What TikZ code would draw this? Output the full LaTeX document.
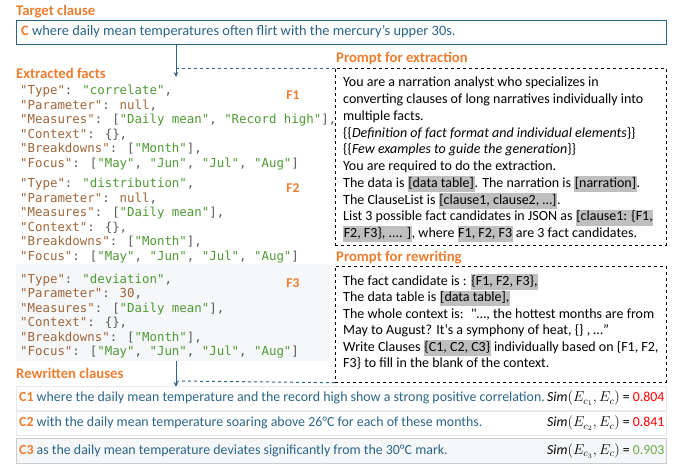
\documentclass[tikz,border=0pt]{standalone}
\usepackage{amsmath}
\usepackage{fontspec}
\setmainfont{Carlito}
\newfontfamily\codefont{DejaVu Sans Mono}
\usetikzlibrary{arrows.meta}
\definecolor{orng}{HTML}{ED7D31}
\definecolor{tealtxt}{HTML}{2A6488}
\definecolor{tealln}{HTML}{2F6484}
\definecolor{keyc}{HTML}{A0663A}
\definecolor{strc}{HTML}{4E9A34}
\definecolor{punc}{HTML}{5A5A5A}
\definecolor{hlg}{HTML}{BFBFBF}
\definecolor{fbg}{HTML}{F5F7F9}
\definecolor{rowln}{HTML}{E6EAEE}
\definecolor{sred}{HTML}{FF0000}
\definecolor{sgreen}{HTML}{70AD47}
\newcommand\ck[1]{\textcolor{keyc}{"#1"}}
\newcommand\cs[1]{\textcolor{strc}{"#1"}}
\newcommand\cv[1]{\textcolor{keyc}{#1}}
\newcommand\hl[1]{{\setlength\fboxsep{0.6pt}\colorbox{hlg}{\rule[-4pt]{0pt}{14.6pt}#1}}}
\newcommand\sq{{\addfontfeature{Ligatures=TeXOff}"}}
\begin{document}
\begin{tikzpicture}[x=1pt,y=-1pt,
  title/.style={anchor=west,inner sep=0,text=orng,font=\bfseries\fontsize{14.7}{16}\selectfont},
  code/.style={anchor=north west,inner sep=0,align=left,text=punc,font=\codefont\fontsize{12.4}{14.5}\selectfont},
  flabel/.style={inner sep=0,text=orng,font=\bfseries\fontsize{13.5}{15}\selectfont},
  prompt/.style={anchor=north west,inner sep=0,align=left,font=\fontsize{14}{16.75}\selectfont},
  pbox/.style={draw=black,dashed,line width=0.7pt},
  conn/.style={draw=tealln,line width=1pt,-{Stealth[length=5pt,width=4.5pt]}},
  dconn/.style={draw=tealln,dashed,line width=1pt},
  clause/.style={anchor=west,inner sep=0,text=tealtxt,font=\fontsize{13.9}{15}\selectfont},
  simn/.style={anchor=east,inner sep=0,font=\fontsize{13.8}{15}\selectfont},
  row/.style={draw=rowln,line width=0.6pt}
]
\useasboundingbox (0,0) rectangle (688,466);

% target clause
\node[title] (ttitle) at (16,12) {Target clause};
\node[draw=tealln,line width=1pt,minimum width=650pt,minimum height=24pt,anchor=north west,inner sep=0] (tbox) at (16,20) {};
\node[clause,font=\fontsize{14.4}{15}\selectfont] (ttext) at (21,32) {\textcolor{orng}{\bfseries C} where daily mean temperatures often flirt with the mercury's upper 30s.};

% extraction prompt
\node[title] (ptitle1) at (336,58) {Prompt for extraction};
\node[pbox,minimum width=331pt,minimum height=177pt,anchor=north west,inner sep=0] (pbox1) at (335,68) {};
\node[prompt] (ptext1) at (343,77) {You are a narration analyst who specializes in\\
converting clauses of long narratives individually into\\
multiple facts.\\
\{\{\textit{Definition of fact format and individual elements}\}\}\\
\{\{\textit{Few examples to guide the generation}\}\}\\
You are required to do the extraction.\\
The data is \hl{[data table]}. The narration is \hl{[narration]}.\\
The ClauseList is \hl{[clause1, clause2, \dots]}.\\
List 3 possible fact candidates in JSON as \hl{[clause1: \{F1,}\\
\hl{F2, F3\}, .... ]}, where \hl{F1, F2, F3} are 3 fact candidates.};

% extracted facts
\node[title] (etitle) at (16,73) {Extracted facts};
\coordinate (a1s) at (176,44);
\draw[conn] (tbox.south -| a1s) -- (176,77);
\coordinate (d1) at (176,68);
\draw[dconn] (d1) -- (pbox1.north west);

\node[code] (f1) at (20,85) {\ck{Type}: \cs{correlate},\\
\ck{Parameter}: \cv{null},\\
\ck{Measures}: [\cs{Daily mean}, \cs{Record high}],\\
\ck{Context}: \{\},\\
\ck{Breakdowns}: [\cs{Month}],\\
\ck{Focus}: [\cs{May}, \cs{Jun}, \cs{Jul}, \cs{Aug}]};
\node[flabel] (l1) at (293,95) {F1};

\node[code] (f2) at (20,178) {\ck{Type}: \cs{distribution},\\
\ck{Parameter}: \cv{null},\\
\ck{Measures}: [\cs{Daily mean}],\\
\ck{Context}: \{\},\\
\ck{Breakdowns}: [\cs{Month}],\\
\ck{Focus}: [\cs{May}, \cs{Jun}, \cs{Jul}, \cs{Aug}]};
\node[flabel] (l2) at (293,188) {F2};

\fill[fbg] (16,264) rectangle (330,361);
\node[code] (f3) at (20,273.5) {\ck{Type}: \cs{deviation},\\
\ck{Parameter}: \cv{30},\\
\ck{Measures}: [\cs{Daily mean}],\\
\ck{Context}: \{\},\\
\ck{Breakdowns}: [\cs{Month}],\\
\ck{Focus}: [\cs{May}, \cs{Jun}, \cs{Jul}, \cs{Aug}]};
\node[flabel] (l3) at (293,283) {F3};

% rewriting prompt
\node[title] (ptitle2) at (336,258) {Prompt for rewriting};
\node[pbox,minimum width=331pt,minimum height=116pt,anchor=north west,inner sep=0] (pbox2) at (335,266) {};
\node[prompt,font=\fontsize{14}{16.4}\selectfont] (ptext2) at (343,274) {The fact candidate is : \hl{\{F1, F2, F3\},}\\
The data table is \hl{[data table],}\\
The whole context is:~ \sq\dots, the hottest months are from\\
May to August? It`s a symphony of heat, \{\} , \dots”\\
Write Clauses \hl{\{C1, C2, C3\}} individually based on \{F1, F2,\\
F3\} to fill in the blank of the context.};

% rewritten clauses
\node[title] (rtitle) at (16,373) {Rewritten clauses};
\coordinate (a2s) at (176,361);
\coordinate (d2) at (176,381);
\draw[dconn] (d2) -- (pbox2.south west);
\draw[conn] (a2s) -- (176,387);

\node[row,minimum width=650pt,minimum height=24pt,anchor=north west,inner sep=0] (r1) at (16,386) {};
\node[row,minimum width=650pt,minimum height=24pt,anchor=north west,inner sep=0] (r2) at (16,411) {};
\node[row,draw=black!20,fill=fbg,minimum width=650pt,minimum height=25pt,anchor=north west,inner sep=0] (r3) at (16,438) {};
\node[clause] (c1) at (r1.west) [xshift=3pt] {\textcolor{orng}{\bfseries C1} where the daily mean temperature and the record high show a strong positive correlation.};
\node[clause] (c2) at (r2.west) [xshift=3pt] {\textcolor{orng}{\bfseries C2} with the daily mean temperature soaring above 26\textdegree C for each of these months.};
\node[clause] (c3) at (r3.west) [xshift=3pt] {\textcolor{orng}{\bfseries C3} as the daily mean temperature deviates significantly from the 30\textdegree C mark.};
\node[simn] (s1) at (r1.east) [xshift=-2pt] {$\mathit{Sim}(E_{c_1},E_c)$ = \textcolor{sred}{0.804}};
\node[simn] (s2) at (r2.east) [xshift=-2pt] {$\mathit{Sim}(E_{c_2},E_c)$ = \textcolor{sred}{0.841}};
\node[simn] (s3) at (r3.east) [xshift=-2pt] {$\mathit{Sim}(E_{c_3},E_c)$ = \textcolor{sgreen}{0.903}};
\end{tikzpicture}
\end{document}
